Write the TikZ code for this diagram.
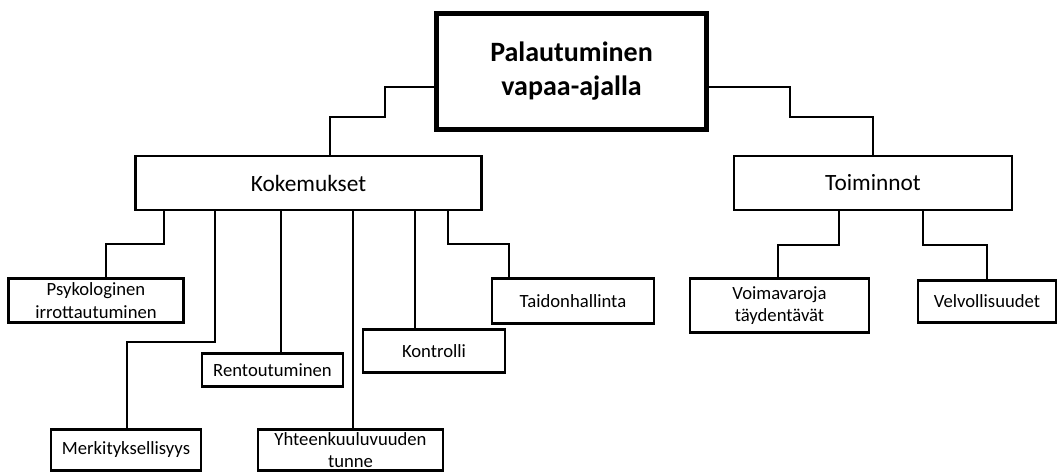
\documentclass[tikz,border=0pt]{standalone}
\usepackage{fontspec}
\setmainfont{Carlito}
\usepackage{tikz}
\tikzstyle{box}=[draw,line width=2.2pt,align=center,inner sep=0pt,font=\fontsize{14}{17}\selectfont]
\tikzstyle{midbox}=[box,font=\fontsize{17.5}{21}\selectfont,minimum height=40.5pt]
\tikzstyle{topbox}=[box,line width=3.4pt,font=\fontsize{21}{25.5}\selectfont\bfseries]
\tikzstyle{link}=[line width=2.2pt]

\begin{document}
\begin{tikzpicture}[x=0.75pt, y=-0.75pt]
      \useasboundingbox (0,0) rectangle (1059,473);
      \node[topbox, minimum width=202.5pt, minimum height=87pt] (top) at (571.5, 71.5) {Palautuminen\\vapaa-ajalla};
      \node[midbox, minimum width=259.5pt] (kok) at (308.5, 183) {Kokemukset};
      \node[midbox, minimum width=208.5pt] (toi) at (873, 183) {Toiminnot};

      \node[box, minimum width=131.25pt, minimum height=33pt] (psy) at (96, 300.5) {Psykologinen\\irrottautuminen};
      \node[box, minimum width=112.5pt, minimum height=30.75pt] (mer) at (126, 450) {Merkityksellisyys};
      \node[box, minimum width=105.75pt, minimum height=24.75pt] (ren) at (272.5, 370) {Rentoutuminen};
      \node[box, minimum width=138.75pt, minimum height=30.75pt] (yht) at (350.5, 450) {Yhteenkuuluvuuden\\tunne};
      \node[box, minimum width=106.5pt, minimum height=32.25pt] (kon) at (434, 351) {Kontrolli};
      \node[box, minimum width=121.5pt, minimum height=33.75pt] (tai) at (573, 301) {Taidonhallinta};
      \node[box, minimum width=134.25pt, minimum height=40.5pt] (voi) at (779.5, 305.5) {Voimavaroja\\täydentävät};
      \node[box, minimum width=103.5pt, minimum height=31.5pt] (vel) at (987, 301.5) {Velvollisuudet};

      \draw[link] (top.west |- 0,87) -| (385,117) -| (kok.north -| 330,0);
      \draw[link] (top.east |- 0,87) -| (790,117) -| (toi.north);

      \draw[link] (kok.south -| 164,0) |- (106,244) -- (psy.north -| 106,0);
      \draw[link] (kok.south -| 215,0) |- (127,342) -- (mer.north -| 127,0);
      \draw[link] (kok.south -| 281,0) -- (ren.north -| 281,0);
      \draw[link] (kok.south -| 353,0) -- (yht.north -| 353,0);
      \draw[link] (kok.south -| 415,0) -- (kon.north -| 415,0);
      \draw[link] (kok.south -| 448,0) |- (509,244) -- (tai.north -| 509,0);

      \draw[link] (toi.south -| 839,0) |- (778,245) -- (voi.north -| 778,0);
      \draw[link] (toi.south -| 923,0) |- (987,245) -- (vel.north);
    \end{tikzpicture}
\end{document}
